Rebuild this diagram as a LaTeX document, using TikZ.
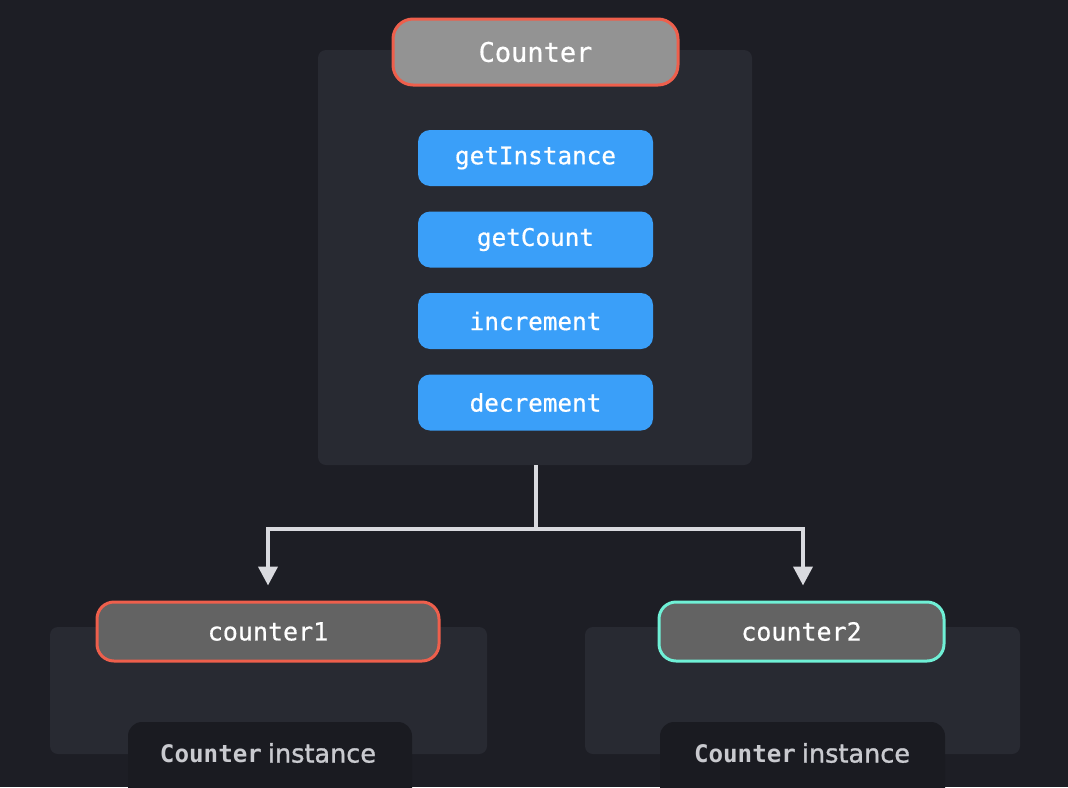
\documentclass[tikz,border=0pt]{standalone}
\usepackage{fontspec}
\setmonofont{DejaVu Sans Mono}
\newfontfamily\monox[FakeBold=0.6]{DejaVu Sans Mono}
\newfontfamily\dvs[FakeBold=1.2]{DejaVu Sans}
\usetikzlibrary{arrows.meta}
\definecolor{bgc}{HTML}{1D1E25}
\definecolor{panelc}{HTML}{282A32}
\definecolor{tabc}{HTML}{1A1B21}
\definecolor{greya}{HTML}{939393}
\definecolor{greyb}{HTML}{636363}
\definecolor{redc}{HTML}{EE5F4C}
\definecolor{tealc}{HTML}{6FF0D6}
\definecolor{bluec}{HTML}{3A9FF9}
\definecolor{linec}{HTML}{D9DADF}
\definecolor{labc}{HTML}{C9CACF}
\begin{document}
\begin{tikzpicture}[x=1pt,y=-1pt,
  panelbox/.style={fill=panelc, rounded corners=8pt, inner sep=0pt},
  headbox/.style={draw=redc, line width=3pt, rounded corners=20pt, inner sep=0pt, text=white,
     font=\monox\fontsize{27}{31}\selectfont},
  methodbox/.style={fill=bluec, rounded corners=12pt, inner sep=0pt, text=white,
     minimum width=235pt, minimum height=56pt, font=\monox\fontsize{24.3}{28}\selectfont},
  instbox/.style={fill=greyb, line width=3pt, rounded corners=17pt, inner sep=0pt, text=white,
     minimum height=59pt, font=\monox\fontsize{25}{29}\selectfont},
  tabbox/.style={fill=tabc, rounded corners=14pt},
  labeltext/.style={text=labc, inner sep=0pt},
  conn/.style={draw=linec, line width=4pt},
  arr/.style={conn, -{Triangle[width=19pt,length=19pt]}, shorten >=15pt}
]
\fill[bgc] (0,0) rectangle (1068,787);
\useasboundingbox (0,0) rectangle (1068,787);

% top panel
\node[panelbox, minimum width=434pt, minimum height=415pt] (panel) at (535,257.5) {};
\node[headbox, fill=greya, minimum width=285pt, minimum height=66pt] (counter) at (535.5,52) {Counter};

\node[methodbox] (m1) at (535.5,158) {getInstance};
\node[methodbox] (m2) at (535.5,239.5) {getCount};
\node[methodbox] (m3) at (535.5,321) {increment};
\node[methodbox] (m4) at (535.5,402.5) {decrement};

% bottom panels
\node[panelbox, minimum width=437pt, minimum height=127pt] (p1) at (268.5,690.5) {};
\node[panelbox, minimum width=435pt, minimum height=127pt] (p2) at (802.5,690.5) {};
\fill[tabbox] (128,790) -- (128,722) -- (412,722) -- (412,790);
\fill[tabbox] (660,790) -- (660,722) -- (945,722) -- (945,790);

\node[instbox, draw=redc, minimum width=342pt] (c1) at (268,631.5) {counter1};
\node[instbox, draw=tealc, minimum width=285pt] (c2) at (801.5,631.5) {counter2};

\node[labeltext] (l1) at (268,753) {{\ttfamily\bfseries\fontsize{24.2}{28}\selectfont Counter}\hspace{6pt}{\dvs\fontsize{25.5}{28}\selectfont instance}};
\node[labeltext] (l2) at (802,753) {{\ttfamily\bfseries\fontsize{24.2}{28}\selectfont Counter}\hspace{6pt}{\dvs\fontsize{25.5}{28}\selectfont instance}};

% connectors
\coordinate (j) at (536,529);
\draw[conn] (panel.south -| j) -- (j);
\draw[arr] (j) -| (c1.north);
\draw[arr] (j) -| ([xshift=1.5pt]c2.north);
\end{tikzpicture}
\end{document}
